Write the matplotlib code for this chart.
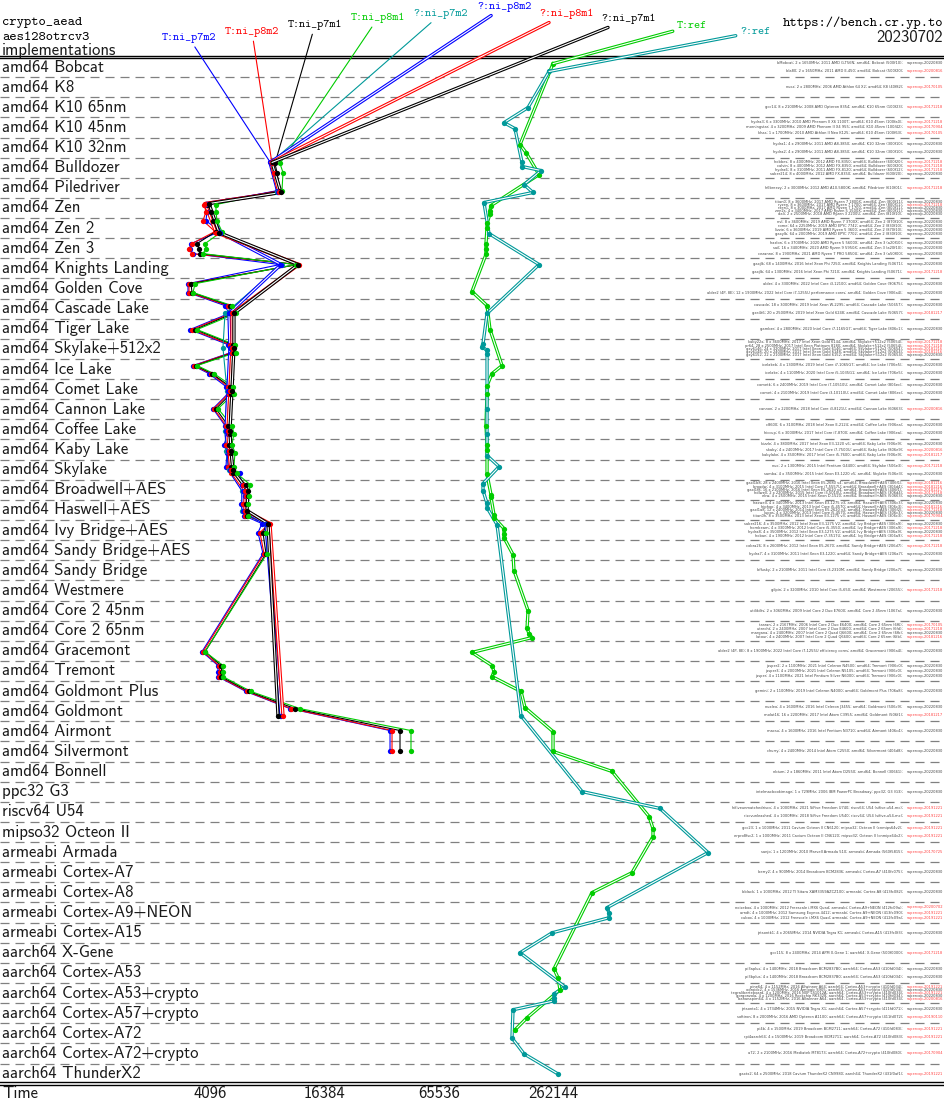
import matplotlib
matplotlib.use("Agg")
import matplotlib.pyplot as plt
import matplotlib.patheffects as pe
from matplotlib.transforms import blended_transform_factory

W, H = 945, 1103
plt.rcParams['lines.scale_dashes'] = False

rows = ["amd64 Bobcat", "amd64 K8", "amd64 K10 65nm", "amd64 K10 45nm", "amd64 K10 32nm",
        "amd64 Bulldozer", "amd64 Piledriver", "amd64 Zen", "amd64 Zen 2", "amd64 Zen 3",
        "amd64 Knights Landing", "amd64 Golden Cove", "amd64 Cascade Lake", "amd64 Tiger Lake",
        "amd64 Skylake+512x2", "amd64 Ice Lake", "amd64 Comet Lake", "amd64 Cannon Lake",
        "amd64 Coffee Lake", "amd64 Kaby Lake", "amd64 Skylake", "amd64 Broadwell+AES",
        "amd64 Haswell+AES", "amd64 Ivy Bridge+AES", "amd64 Sandy Bridge+AES",
        "amd64 Sandy Bridge", "amd64 Westmere", "amd64 Core 2 45nm", "amd64 Core 2 65nm",
        "amd64 Gracemont", "amd64 Tremont", "amd64 Goldmont Plus", "amd64 Goldmont",
        "amd64 Airmont", "amd64 Silvermont", "amd64 Bonnell", "ppc32 G3", "riscv64 U54",
        "mipso32 Octeon II", "armeabi Armada", "armeabi Cortex-A7", "armeabi Cortex-A8",
        "armeabi Cortex-A9+NEON", "armeabi Cortex-A15", "aarch64 X-Gene", "aarch64 Cortex-A53",
        "aarch64 Cortex-A53+crypto", "aarch64 Cortex-A57+crypto", "aarch64 Cortex-A72",
        "aarch64 Cortex-A72+crypto", "aarch64 ThunderX2"]

# machines per row: (description, supercop version)
machines = [
    [("bMobcat; 2 x 1650MHz; 2011 AMD G-T56N; amd64; Bobcat (500f10);", "supercop-20220830"),
     ("bla80; 2 x 1650MHz; 2011 AMD E-450; amd64; Bobcat (500f20);", "supercop-20200816")],
    [("nucz; 2 x 2800MHz; 2006 AMD Athlon 64 X2; amd64; K8 (40f82);", "supercop-20170105")],
    [("gcc14; 8 x 2100MHz; 2008 AMD Opteron 8354; amd64; K10 65nm (100f23);", "supercop-20171218")],
    [("hydra3; 6 x 3300MHz; 2010 AMD Phenom II X6 1100T; amd64; K10 45nm (100fa0);", "supercop-20171218"),
     ("morningstar; 4 x 3200MHz; 2009 AMD Phenom II X4 955; amd64; K10 45nm (100f42);", "supercop-20170904"),
     ("khas; 1 x 1700MHz; 2010 AMD Athlon II Neo K125; amd64; K10 45nm (100f63);", "supercop-20170105")],
    [("hydra1; 4 x 2900MHz; 2011 AMD A8-3850; amd64; K10 32nm (300f10);", "supercop-20220830"),
     ("hydra2; 4 x 2900MHz; 2011 AMD A8-3850; amd64; K10 32nm (300f10);", "supercop-20220830")],
    [("hobbes; 8 x 4000MHz; 2012 AMD FX-8350; amd64; Bulldozer (600f20);", "supercop-20171218"),
     ("calvin; 8 x 4000MHz; 2012 AMD FX-8350; amd64; Bulldozer (600f20);", "supercop-20171218"),
     ("hydra6; 8 x 3100MHz; 2011 AMD FX-8120; amd64; Bulldozer (600f12);", "supercop-20171218"),
     ("saber214; 8 x 4000MHz; 2012 AMD FX-8350; amd64; Bulldozer (600f20);", "supercop-20220830")],
    [("h6breezy; 2 x 3000MHz; 2012 AMD A10-5800K; amd64; Piledriver (610f01);", "supercop-20171218")],
    [("titan0; 8 x 3600MHz; 2017 AMD Ryzen 7 1800X; amd64; Zen (800f11);", "supercop-20220830"),
     ("ryzen; 8 x 3600MHz; 2017 AMD Ryzen 7 1700; amd64; Zen (800f11);", "supercop-20171218"),
     ("rzen1; 8 x 3000MHz; 2017 AMD Ryzen 7 1700; amd64; Zen (800f11);", "supercop-20220830"),
     ("zen2s; 4 x 3400MHz; 2017 AMD Ryzen 5 1500X; amd64; Zen (800f11);", "supercop-20220830"),
     ("dali; 2 x 2500MHz; 2018 AMD Ryzen 3 2200U; amd64; Zen (810f10);", "supercop-20220830")],
    [("nvl; 8 x 3600MHz; 2019 AMD Ryzen 7 3700X; amd64; Zen 2 (870f10);", "supercop-20220830"),
     ("rome; 64 x 2250MHz; 2019 AMD EPYC 7742; amd64; Zen 2 (830f10);", "supercop-20220830"),
     ("lizzie; 6 x 3600MHz; 2019 AMD Ryzen 5 3600; amd64; Zen 2 (870f10);", "supercop-20220830"),
     ("gaxylb; 64 x 2000MHz; 2019 AMD EPYC 7702; amd64; Zen 2 (830f10);", "supercop-20220830")],
    [("hazlon; 6 x 3700MHz; 2020 AMD Ryzen 5 5600X; amd64; Zen 3 (a20f10);", "supercop-20220830"),
     ("sail; 16 x 3400MHz; 2020 AMD Ryzen 9 5950X; amd64; Zen 3 (a20f10);", "supercop-20220830"),
     ("cezanne; 8 x 1900MHz; 2021 AMD Ryzen 7 PRO 5850U; amd64; Zen 3 (a50f00);", "supercop-20220830")],
    [("gaxjlk; 68 x 1400MHz; 2016 Intel Xeon Phi 7250; amd64; Knights Landing (50671);", "supercop-20220830"),
     ("gaxjlb; 64 x 1300MHz; 2016 Intel Xeon Phi 7210; amd64; Knights Landing (50671);", "supercop-20171218")],
    [("alder; 4 x 3300MHz; 2022 Intel Core i3-12100; amd64; Golden Cove (90675);", "supercop-20220830"),
     ("alder2 (4P, 8E); 12 x 1900MHz; 2022 Intel Core i7-1255U performance cores; amd64; Golden Cove (906a4);", "supercop-20220830")],
    [("cascade; 18 x 3000MHz; 2019 Intel Xeon W-2295; amd64; Cascade Lake (50657);", "supercop-20220830"),
     ("gxe4t6; 20 x 2500MHz; 2019 Intel Xeon Gold 6248; amd64; Cascade Lake (50657);", "supercop-20181217")],
    [("gamber; 4 x 2800MHz; 2020 Intel Core i7-1165G7; amd64; Tiger Lake (806c1);", "supercop-20220830")],
    [("kaby22x; 8 x 3600MHz; 2017 Intel Xeon Gold 6144; amd64; Skylake+512x2 (50654);", "supercop-20171218"),
     ("pr64; 28 x 2500MHz; 2017 Intel Xeon Platinum 8180; amd64; Skylake+512x2 (50654);", "supercop-20171218"),
     ("gxy6146; 24 x 3200MHz; 2017 Intel Xeon Gold 6146; amd64; Skylake+512x2 (50654);", "supercop-20181216"),
     ("gxy6148; 20 x 2400MHz; 2017 Intel Xeon Gold 6148; amd64; Skylake+512x2 (50654);", "supercop-20181216"),
     ("gxy6152; 22 x 2100MHz; 2017 Intel Xeon Gold 6152; amd64; Skylake+512x2 (50654);", "supercop-20220830")],
    [("icelakeb; 4 x 1300MHz; 2019 Intel Core i7-1065G7; amd64; Ice Lake (706e5);", "supercop-20220830"),
     ("icelake; 4 x 1100MHz; 2020 Intel Core i5-1035G1; amd64; Ice Lake (706e5);", "supercop-20220830")],
    [("cometk; 6 x 2400MHz; 2019 Intel Core i7-10510U; amd64; Comet Lake (806ec);", "supercop-20220830"),
     ("comet; 4 x 2100MHz; 2019 Intel Core i3-10110U; amd64; Comet Lake (806ec);", "supercop-20220830")],
    [("cannon; 2 x 2200MHz; 2018 Intel Core i3-8121U; amd64; Cannon Lake (60663);", "supercop-20200816")],
    [("c8600; 6 x 3100MHz; 2018 Intel Xeon E-2124; amd64; Coffee Lake (906ea);", "supercop-20220830"),
     ("hiccup; 6 x 3000MHz; 2017 Intel Core i7-8700; amd64; Coffee Lake (906ea);", "supercop-20220830")],
    [("kizzle; 4 x 3800MHz; 2017 Intel Xeon E3-1220 v6; amd64; Kaby Lake (906e9);", "supercop-20220830"),
     ("skaby; 4 x 2400MHz; 2017 Intel Core i7-7500U; amd64; Kaby Lake (806e9);", "supercop-20200816"),
     ("kabylake; 4 x 3500MHz; 2017 Intel Core i5-7600; amd64; Kaby Lake (906e9);", "supercop-20181217")],
    [("nuc; 2 x 1300MHz; 2015 Intel Pentium G4400; amd64; Skylake (506e3);", "supercop-20171218"),
     ("samba; 4 x 3500MHz; 2015 Intel Xeon E3-1220 v5; amd64; Skylake (506e3);", "supercop-20220830")],
    [("gaxl1b8; 28 x 2400MHz; 2016 Intel Xeon E5-2680 v4; amd64; Broadwell+AES (406f1);", "supercop-20181216"),
     ("broadw; 4 x 3100MHz; 2015 Intel Core i7-5557U; amd64; Broadwell+AES (306d4);", "supercop-20181216"),
     ("gaxl1f8; 16 x 2100MHz; 2016 Intel Xeon E5-2620 v4; amd64; Broadwell+AES (406f1);", "supercop-20181217"),
     ("hdlwell; 2 x 2200MHz; 2015 Intel Core i3-5010U; amd64; Broadwell+AES (306d4);", "supercop-20171218"),
     ("ekw; 4 x 2500MHz; 2015 Intel Xeon D-1520; amd64; Broadwell+AES (50663);", "supercop-20220830")],
    [("haswell; 4 x 3400MHz; 2013 Intel Xeon E3-1275 v3; amd64; Haswell+AES (306c3);", "supercop-20220830"),
     ("hiphop; 4 x 3400MHz; 2013 Intel Core i5-4570; amd64; Haswell+AES (306c3);", "supercop-20181216"),
     ("gaxl1a8; 12 x 2400MHz; 2014 Intel Xeon E5-2620 v3; amd64; Haswell+AES (306f2);", "supercop-20171218"),
     ("lupos; 4 x 3200MHz; 2013 Intel Core i5-4570; amd64; Haswell+AES (306c3);", "supercop-20220830"),
     ("titan0h; 8 x 3500MHz; 2013 Intel Xeon E3-1275 v3; amd64; Haswell+AES (306c3);", "supercop-20170904")],
    [("saber216; 4 x 3500MHz; 2012 Intel Xeon E3-1275 V2; amd64; Ivy Bridge+AES (306a9);", "supercop-20220830"),
     ("hornbeam; 4 x 3300MHz; 2012 Intel Core i5-3550; amd64; Ivy Bridge+AES (306a9);", "supercop-20171218"),
     ("hydra8; 4 x 3500MHz; 2012 Intel Xeon E3-1275 V2; amd64; Ivy Bridge+AES (306a9);", "supercop-20220830"),
     ("hoban; 4 x 1900MHz; 2012 Intel Core i7-3517U; amd64; Ivy Bridge+AES (306a9);", "supercop-20171218")],
    [("cobra26; 8 x 2600MHz; 2012 Intel Xeon E5-2670; amd64; Sandy Bridge+AES (206d7);", "supercop-20171218"),
     ("hydra7; 4 x 3100MHz; 2011 Intel Xeon E3-1220; amd64; Sandy Bridge+AES (206a7);", "supercop-20220830")],
    [("bflusky; 2 x 2100MHz; 2011 Intel Core i3-2310M; amd64; Sandy Bridge (206a7);", "supercop-20220830")],
    [("gilpin; 2 x 3200MHz; 2010 Intel Core i5-650; amd64; Westmere (20655);", "supercop-20171218")],
    [("utilikilts; 2 x 3060MHz; 2009 Intel Core 2 Duo E7600; amd64; Core 2 45nm (1067a);", "supercop-20220830")],
    [("tarzan; 2 x 2167MHz; 2006 Intel Core 2 Duo E6400; amd64; Core 2 65nm (6f6);", "supercop-20170105"),
     ("utrecht; 2 x 2400MHz; 2007 Intel Core 2 Duo E4600; amd64; Core 2 65nm (6fd);", "supercop-20171218"),
     ("margana; 4 x 2400MHz; 2007 Intel Core 2 Quad Q6600; amd64; Core 2 65nm (6fb);", "supercop-20220830"),
     ("latour; 4 x 2400MHz; 2007 Intel Core 2 Quad Q6600; amd64; Core 2 65nm (6fb);", "supercop-20181216")],
    [("alder2 (4P, 8E); 8 x 1900MHz; 2022 Intel Core i7-1255U efficiency cores; amd64; Gracemont (906a4);", "supercop-20220830")],
    [("jasper2; 2 x 1100MHz; 2021 Intel Celeron N4500; amd64; Tremont (906c0);", "supercop-20220830"),
     ("jasper3; 4 x 2000MHz; 2021 Intel Celeron N5105; amd64; Tremont (906c0);", "supercop-20220830"),
     ("jasper; 4 x 1100MHz; 2021 Intel Pentium Silver N6000; amd64; Tremont (906c0);", "supercop-20220830")],
    [("gemini; 2 x 1100MHz; 2019 Intel Celeron N4000; amd64; Goldmont Plus (706a8);", "supercop-20220830")],
    [("nuxleo; 4 x 1600MHz; 2016 Intel Celeron J3455; amd64; Goldmont (506c9);", "supercop-20220830"),
     ("molat16; 16 x 2200MHz; 2017 Intel Atom C3955; amd64; Goldmont (506f1);", "supercop-20181217")],
    [("macsu; 4 x 1600MHz; 2016 Intel Pentium N3710; amd64; Airmont (406c4);", "supercop-20220830")],
    [("churry; 4 x 2400MHz; 2014 Intel Atom C2550; amd64; Silvermont (406d8);", "supercop-20220830")],
    [("nbium; 2 x 1860MHz; 2011 Intel Atom D2550; amd64; Bonnell (30661);", "supercop-20220830")],
    [("intelmacbookimage; 1 x 729MHz; 2006 IBM PowerPC Broadway; ppc32; G3 (G3);", "supercop-20220830")],
    [("hifiveunmatchedriscv; 4 x 1000MHz; 2021 SiFive Freedom U740; riscv64; U54 (sifive,u54-mc);", "supercop-20191221"),
     ("riscvunleashed; 4 x 1000MHz; 2018 SiFive Freedom U540; riscv64; U54 (sifive,u54-mc);", "supercop-20191221")],
    [("gcc23; 1 x 1000MHz; 2011 Cavium Octeon II CN6120; mipso32; Octeon II (cnmips64v2);", "supercop-20191221"),
     ("erpro8fsc2; 1 x 1000MHz; 2011 Cavium Octeon II CN6120; mipso32; Octeon II (cnmips64v2);", "supercop-20191221")],
    [("sanjo; 1 x 1200MHz; 2010 Marvell Armada 510; armeabi; Armada (560f5815);", "supercop-20170725")],
    [("berry2; 4 x 900MHz; 2014 Broadcom BCM2836; armeabi; Cortex-A7 (410fc075);", "supercop-20220830")],
    [("bblack; 1 x 1000MHz; 2012 TI Sitara XAM3359AZCZ100; armeabi; Cortex-A8 (413fc082);", "supercop-20220830")],
    [("noisebox; 4 x 1000MHz; 2012 Freescale i.MX6 Quad; armeabi; Cortex-A9+NEON (412fc09a);", "supercop-20200702"),
     ("arndt; 4 x 1000MHz; 2012 Samsung Exynos 4412; armeabi; Cortex-A9+NEON (413fc090);", "supercop-20191221"),
     ("cubox; 4 x 1000MHz; 2012 Freescale i.MX6 Quad; armeabi; Cortex-A9+NEON (412fc09a);", "supercop-20191221")],
    [("jetsontk1; 4 x 2065MHz; 2014 NVIDIA Tegra K1; armeabi; Cortex-A15 (413fc0f3);", "supercop-20220830")],
    [("gcc115; 8 x 2400MHz; 2014 APM X-Gene 1; aarch64; X-Gene (500f0000);", "supercop-20171218")],
    [("pi3aplus; 4 x 1400MHz; 2018 Broadcom BCM2837B0; aarch64; Cortex-A53 (410fd034);", "supercop-20220830"),
     ("pi3bplus; 4 x 1400MHz; 2018 Broadcom BCM2837B0; aarch64; Cortex-A53 (410fd034);", "supercop-20220830")],
    [("pine64; 4 x 1152MHz; 2016 Allwinner A64; aarch64; Cortex-A53+crypto (410fd034);", "supercop-20191221"),
     ("odroidc2; 4 x 1536MHz; 2016 Amlogic S905; aarch64; Cortex-A53+crypto (410fd034);", "supercop-20220830"),
     ("tegraliberteboard; 4 x 1200MHz; 2016 NXP LS1012A; aarch64; Cortex-A53+crypto (410fd034);", "supercop-20191221"),
     ("gorgonzola; 4 x 1200MHz; 2016 Rockchip RK3328; aarch64; Cortex-A53+crypto (410fd034);", "supercop-20220830"),
     ("bananapim64; 4 x 1152MHz; 2016 Allwinner A64; aarch64; Cortex-A53+crypto (410fd034);", "supercop-20200816")],
    [("jetsontx1; 4 x 1734MHz; 2015 NVIDIA Tegra X1; aarch64; Cortex-A57+crypto (411fd071);", "supercop-20220830"),
     ("softiron; 8 x 2000MHz; 2016 AMD Opteron A1100; aarch64; Cortex-A57+crypto (411fd072);", "supercop-20190110")],
    [("pi4b; 4 x 1500MHz; 2019 Broadcom BCM2711; aarch64; Cortex-A72 (410fd083);", "supercop-20191221"),
     ("rpi4aarch64; 4 x 1500MHz; 2019 Broadcom BCM2711; aarch64; Cortex-A72 (410fd083);", "supercop-20191221")],
    [("a72; 2 x 2100MHz; 2016 Mediatek MT8173; aarch64; Cortex-A72+crypto (410fd080);", "supercop-20170904")],
    [("gaxtx2; 64 x 2500MHz; 2018 Cavium ThunderX2 CN9980; aarch64; ThunderX2 (431f0af1);", "supercop-20191221")],
]

# machine positions (row units) measured by the T:ni_* implementations
ni_t_pos = [4.79, 5.24, 6.14, 6.83, 7.18, 7.63, 8.17, 8.77, 9.02, 9.27, 9.81, 10.76, 11.20,
            11.85, 12.24, 13.04, 13.79, 14.18, 14.83, 15.23, 15.87, 16.22, 16.97, 17.81, 18.21,
            18.75, 19.15, 19.85, 20.19, 20.74, 21.29, 21.73, 22.28, 22.68, 23.13, 24.17, 29.04,
            29.73, 30.03, 30.28, 31.02, 31.87, 32.96, 34.00]
# cycles
t_ni_p7m2 = [8577, 8895, 9224, 3856, 3949, 3901, 4622, 3254, 3214, 3334, 9566, 3137, 3137,
             4911, 5154, 3214, 5092, 5281, 3334, 4047, 4971, 5092, 4247, 4911, 5092, 4852, 5031,
             4971, 5888, 6036, 6260, 5964, 6184, 7692, 7329, 7785, 3717, 4512, 4512, 4512, 6336,
             10798, 36290, 36290]
t_ni_p8m2 = [8682, 8895, 9451, 3809, 3901, 3764, 4351, 3293, 3176, 3293, 11902, 3176, 3176,
             5092, 5281, 3293, 5217, 5345, 3373, 4146, 5092, 5154, 4299, 4971, 5154, 4971, 5154,
             5092, 5281, 6110, 6336, 6110, 6260, 8372, 7508, 7880, 3764, 4567, 4622, 4567, 6413,
             10930, 37180, 37180]
t_ni_p7m1 = [9003, 9224, 9566, 3997, 4146, 4247, 4404, 3500, 3586, 3629, 11759, 3254, 3293,
             5217, 5410, 3416, 5410, 5476, 3457, 4196, 5217, 5281, 4404, 5092, 5217, 5154, 5281,
             5281, 5410, 6336, 6491, 6336, 6413, 8172, 7785, 8073, 3856, 4679, 4736, 4679, 6570,
             11477, 40960, 40960]
t_ni_p8m1 = [9566, 9920, 9800, 4404, 4404, 4458, 4736, 3856, 3901, 3764, 11617, 3416, 3334,
             5345, 5610, 3500, 5543, 5610, 3500, 4299, 5410, 5476, 4512, 5345, 5476, 5345, 5543,
             5476, 5679, 6650, 6570, 6491, 6491, 8073, 8073, 8172, 3856, 4793, 4793, 4793, 6731,
             12190, 46790, 46790]

# machine positions measured by the ?:ni_* implementations
ni_q_pos = [4.74, 6.23, 6.78, 8.22, 9.81, 12.24, 13.94, 16.07, 18.06, 19.05, 20.04, 21.04,
            22.03, 22.68, 32.22]
q_ni_p7m2 = [8577, 9224, 3901, 4567, 9800, 4911, 4793, 5031, 4911, 4971, 5154, 6036, 6036, 8073, 9566]
q_ni_p8m2 = [8474, 9337, 3901, 4622, 9682, 5154, 5217, 5092, 4971, 5092, 5217, 6110, 6110, 8073, 9682]
q_ni_p8m1 = [8577, 9451, 3856, 4404, 12047, 5345, 5345, 5217, 5092, 5154, 5281, 6260, 6260, 8474, 9920]
q_ni_p7m1 = [8682, 9682, 4047, 4567, 11902, 5476, 5476, 5345, 5217, 5281, 5410, 6491, 6413, 8271, 9337]

t_ref_pos = [-0.17, 3.85, 4.25, 5.34, 6.88, 7.13, 7.28, 7.77, 7.97, 8.77, 9.02, 9.31, 11.15,
             11.85, 13.04, 14.83, 15.23, 15.82, 16.22, 17.81, 18.75, 19.00, 20.24, 21.24, 21.38,
             22.23, 22.38, 22.93, 23.18, 23.38, 24.22, 25.01, 27.00, 27.89, 28.14, 28.34, 29.08,
             29.73, 30.03, 30.28, 31.02, 31.82, 33.01, 34.00, 34.99, 37.23, 37.83, 38.23, 40.02,
             41.01, 44.80, 45.24, 45.84, 47.23, 47.83]
t_ref = [261600, 175400, 188600, 220800, 123400, 121900, 121900, 117600, 117600, 116100, 116100,
         116100, 97990, 117600, 121900, 141000, 124900, 117600, 117600, 116100, 117600, 117600,
         117600, 123400, 123400, 127900, 127900, 144500, 144500, 144500, 161100, 163000, 193300,
         190900, 195600, 202800, 97990, 124900, 127900, 124900, 177500, 186300, 261600, 261600,
         534500, 837200, 878700, 878700, 681500, 419800, 264700, 277900, 284700, 190900, 165000]

q_ref_pos = [0.22, 2.01, 2.76, 3.06, 4.74, 4.94, 5.14, 5.84, 6.23, 6.73, 8.27, 9.81, 12.24,
             13.74, 13.89, 14.08, 14.23, 17.01, 18.21, 19.30, 19.85, 20.69, 21.04, 21.68, 21.88,
             22.73, 32.22, 35.99, 36.83, 39.02, 41.76, 42.01, 42.26, 43.01, 44.00, 45.69, 46.04,
             46.24, 46.39, 46.83, 48.23, 49.02, 50.02]
q_ref = [249200, 193300, 144500, 165000, 179700, 179700, 226200, 184100, 205300, 113300, 120400,
         220800, 117600, 112000, 110600, 117600, 117600, 117600, 117600, 117600, 136000, 112000,
         112000, 117600, 117600, 132700, 177500, 371800, 956300, 1712000, 503300, 515600, 515600,
         258300, 175400, 302300, 264700, 264700, 264700, 161100, 159100, 184100, 277900]

xticks = [4096, 16384, 65536, 262144]

BLUE, RED, BLACK, GREEN, TEAL = "#0000ff", "#ff0000", "#000000", "#00cc00", "#009999"

# label, colour, double line, positions, values, label centre (px from top-left)
series = [
    ("T:ni_p7m2", BLUE, False, ni_t_pos, t_ni_p7m2, (189, 38)),
    ("T:ni_p8m2", RED, False, ni_t_pos, t_ni_p8m2, (252, 32)),
    ("T:ni_p7m1", BLACK, False, ni_t_pos, t_ni_p7m1, (315, 25)),
    ("T:ni_p8m1", GREEN, False, ni_t_pos, t_ni_p8m1, (378, 18)),
    ("?:ni_p7m2", TEAL, False, ni_q_pos, q_ni_p7m2, (441, 14)),
    ("?:ni_p8m2", BLUE, True, ni_q_pos, q_ni_p8m2, (504, 7)),
    ("?:ni_p8m1", RED, True, ni_q_pos, q_ni_p8m1, (566, 14)),
    ("?:ni_p7m1", BLACK, True, ni_q_pos, q_ni_p7m1, (629, 19)),
    ("T:ref", GREEN, True, t_ref_pos, t_ref, (692, 26)),
    ("?:ref", TEAL, True, q_ref_pos, q_ref, (755, 32)),
]

fig = plt.figure(figsize=(W / 100, H / 100), dpi=100)
top_px, row_px = 57.0, 20.13
ax = fig.add_axes([0, 1 - (top_px + 51 * row_px) / H, 1, 51 * row_px / H])
ax.set_xscale("log", base=2)
ax.set_xlim(321.5, 3.024e7)
ax.set_ylim(50.5, -0.5)
ax.axis("off")
bt = blended_transform_factory(ax.transAxes, ax.transData)

SANS = "cmss10"
MONO = "cmtt10"
INK = "#1a1a1a"

for i, name in enumerate(rows):
    ax.text(2 / W, i, name, transform=bt, va="center", ha="left",
            fontfamily=SANS, fontsize=12, color=INK)
for i in range(len(rows) - 1):
    ax.axhline(i + 0.5, color="#808080", lw=0.9, dashes=(6.5, 4.3), zorder=0)
for y in (-0.5 - 0.065, -0.5 + 0.065, 50.5 - 0.065, 50.5 + 0.065):
    ax.axhline(y, color="black", lw=1.0, clip_on=False)

# machine descriptions
for i, ms in enumerate(machines):
    n = len(ms)
    step = min(0.4, 0.8 / n)
    for j, (desc, ver) in enumerate(ms):
        yy = i + (j - (n - 1) / 2) * step
        ax.text(903 / W, yy, desc, transform=bt, ha="right", va="center",
                fontsize=2.6, color="#444444")
        ax.text(943 / W, yy, ver, transform=bt, ha="right", va="center",
                fontsize=2.6, color="#444444" if ver == "supercop-20220830" else "#ff4040")

for label, c, double, pos, vals, (lx, ly) in series:
    if double:
        eff = [pe.Stroke(linewidth=2.4, foreground=c), pe.Normal()]
        ax.plot(vals, pos, color="white", lw=0.8, path_effects=eff, zorder=3)
        arrow = dict(arrowstyle="-", color="white", lw=0.8, path_effects=eff,
                     shrinkA=1, shrinkB=0)
    else:
        ax.plot(vals, pos, color=c, lw=0.8, zorder=3)
        arrow = dict(arrowstyle="-", color=c, lw=0.8, shrinkA=1, shrinkB=0)
    ax.plot(vals, pos, "o", ms=3.8, color=c, mew=0, zorder=4)
    ax.annotate(label, xy=(vals[0], pos[0]), xycoords="data",
                xytext=(lx, H - ly), textcoords="figure pixels",
                ha="center", va="center", color=c, fontfamily=MONO, fontsize=8.3,
                arrowprops=arrow, annotation_clip=False, zorder=5)

# header
fig.text(2 / W, 1 - 23 / H, "crypto_aead", fontfamily=MONO, fontsize=10, va="center")
fig.text(2 / W, 1 - 37 / H, "aes128otrcv3", fontfamily=MONO, fontsize=10, va="center")
fig.text(2 / W, 1 - 50 / H, "implementations", fontfamily=SANS, fontsize=12, va="center",
         color=INK)
fig.text(943 / W, 1 - 23 / H, "https://bench.cr.yp.to", fontfamily=MONO, fontsize=10,
         va="center", ha="right")
fig.text(943 / W, 1 - 37 / H, "20230702", fontfamily=SANS, fontsize=12, va="center", ha="right",
         color=INK)

# bottom axis
fig.text(2 / W, 1 - 1093 / H, "Time", fontfamily=SANS, fontsize=12, va="center", color=INK)
for t in xticks:
    ax.text(t, 50.97, str(t), ha="center", va="center", fontfamily=SANS, fontsize=12,
            color=INK, clip_on=False)

fig.savefig("out.png", dpi=100)
